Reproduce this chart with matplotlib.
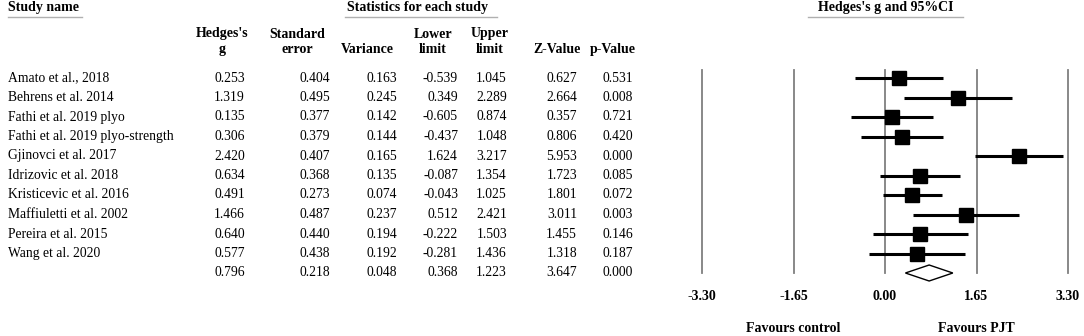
import matplotlib
matplotlib.use("Agg")
import matplotlib.pyplot as plt
import numpy as np

# ---- data ----
studies = ["Amato et al., 2018", "Behrens et al. 2014", "Fathi et al. 2019 plyo",
           "Fathi et al. 2019 plyo-strength", "Gjinovci et al. 2017", "Idrizovic et al. 2018",
           "Kristicevic et al. 2016", "Maffiuletti et al. 2002", "Pereira et al. 2015",
           "Wang et al. 2020"]
g = [0.253, 1.319, 0.135, 0.306, 2.420, 0.634, 0.491, 1.466, 0.640, 0.577]
se = [0.404, 0.495, 0.377, 0.379, 0.407, 0.368, 0.273, 0.487, 0.440, 0.438]
var = [0.163, 0.245, 0.142, 0.144, 0.165, 0.135, 0.074, 0.237, 0.194, 0.192]
lower = [-0.539, 0.349, -0.605, -0.437, 1.624, -0.087, -0.043, 0.512, -0.222, -0.281]
upper = [1.045, 2.289, 0.874, 1.048, 3.217, 1.354, 1.025, 2.421, 1.503, 1.436]
zval = [0.627, 2.664, 0.357, 0.806, 5.953, 1.723, 1.801, 3.011, 1.455, 1.318]
pval = [0.531, 0.008, 0.721, 0.420, 0.000, 0.085, 0.072, 0.003, 0.146, 0.187]
# pooled row
pooled = dict(g=0.796, se=0.218, var=0.048, lower=0.368, upper=1.223, z=3.647, p=0.000)
ticks = [-3.30, -1.65, 0.00, 1.65, 3.30]

W, H = 1084, 336
plt.rcParams["font.family"] = ["Liberation Serif", "DejaVu Serif"]
fig = plt.figure(figsize=(W / 100, H / 100), dpi=100)

# text layer in pixel coordinates
tx = fig.add_axes([0, 0, 1, 1])
tx.set_xlim(0, W); tx.set_ylim(H, 0); tx.axis("off")

fs = 9.8
row0, dy = 78, 19.5
rows = [row0 + dy * i for i in range(len(studies) + 1)]

# section titles with underline
for label, xc, x0, x1, ha in [("Study name", 8, 8, 82, "left"),
                              ("Statistics for each study", 347, 345, 497, "left"),
                              ("Hedges's g and 95%CI", 886, 808, 963, "center")]:
    tx.text(xc, 8, label, ha=ha, va="center", fontsize=10, fontweight="bold")
    tx.plot([x0, x1], [17, 17], color="#b0b0b0", lw=1)

# column headers (center x) and value right edges
cols = [("Hedges's\ng", 222, 245, g, pooled["g"]),
        ("Standard\nerror", 297, 330, se, pooled["se"]),
        ("Variance", 367, 397, var, pooled["var"]),
        ("Lower\nlimit", 433, 458, lower, pooled["lower"]),
        ("Upper\nlimit", 490, 507, upper, pooled["upper"]),
        ("Z-Value", 557, 577, zval, pooled["z"]),
        ("p-Value", 613, 633, pval, pooled["p"])]
for head, xc, xr, vals, pv in cols:
    tx.text(xc, 56, head, ha="center", va="bottom", fontsize=10, fontweight="bold",
            linespacing=1.25)
    for y, v in zip(rows, list(vals) + [pv]):
        tx.text(xr, y, f"{v:.3f}", ha="right", va="center", fontsize=fs)

for y, name in zip(rows, studies):
    tx.text(8, y, name, ha="left", va="center", fontsize=fs)

# forest plot axes: -3.30 at x=702, 3.30 at x=1068
ax = fig.add_axes([690 / W, 0, 390 / W, 1])
half = 3.3 + 12 / (366 / 6.6)
ax.set_xlim(-half, half); ax.set_ylim(H, 0); ax.axis("off")

for t in ticks:
    ax.plot([t, t], [70, 273], color="#7f7f7f", lw=1.3, zorder=1)
    ax.text(t, 297, f"{t:.2f}", ha="center", va="center", fontsize=10, fontweight="bold")

w = 1 / np.array(var)
sizes = 9 + 1.5 * np.sqrt(w / w.max())
for y, gi, lo, hi, s in zip(rows, g, lower, upper, sizes):
    ax.plot([lo, hi], [y, y], color="black", lw=2.2, zorder=2, solid_capstyle="butt")
    ax.plot(gi, y, marker="s", ms=s, color="black", zorder=3)

yd = rows[-1]
ax.fill([pooled["lower"], pooled["g"], pooled["upper"], pooled["g"]],
        [yd, yd - 8, yd, yd + 8], facecolor="white", edgecolor="black", lw=1, zorder=3)

ax.text(-1.65, 329, "Favours control", ha="center", va="center", fontsize=10, fontweight="bold")
ax.text(1.65, 329, "Favours PJT", ha="center", va="center", fontsize=10, fontweight="bold")

fig.savefig("out.png", dpi=100)
